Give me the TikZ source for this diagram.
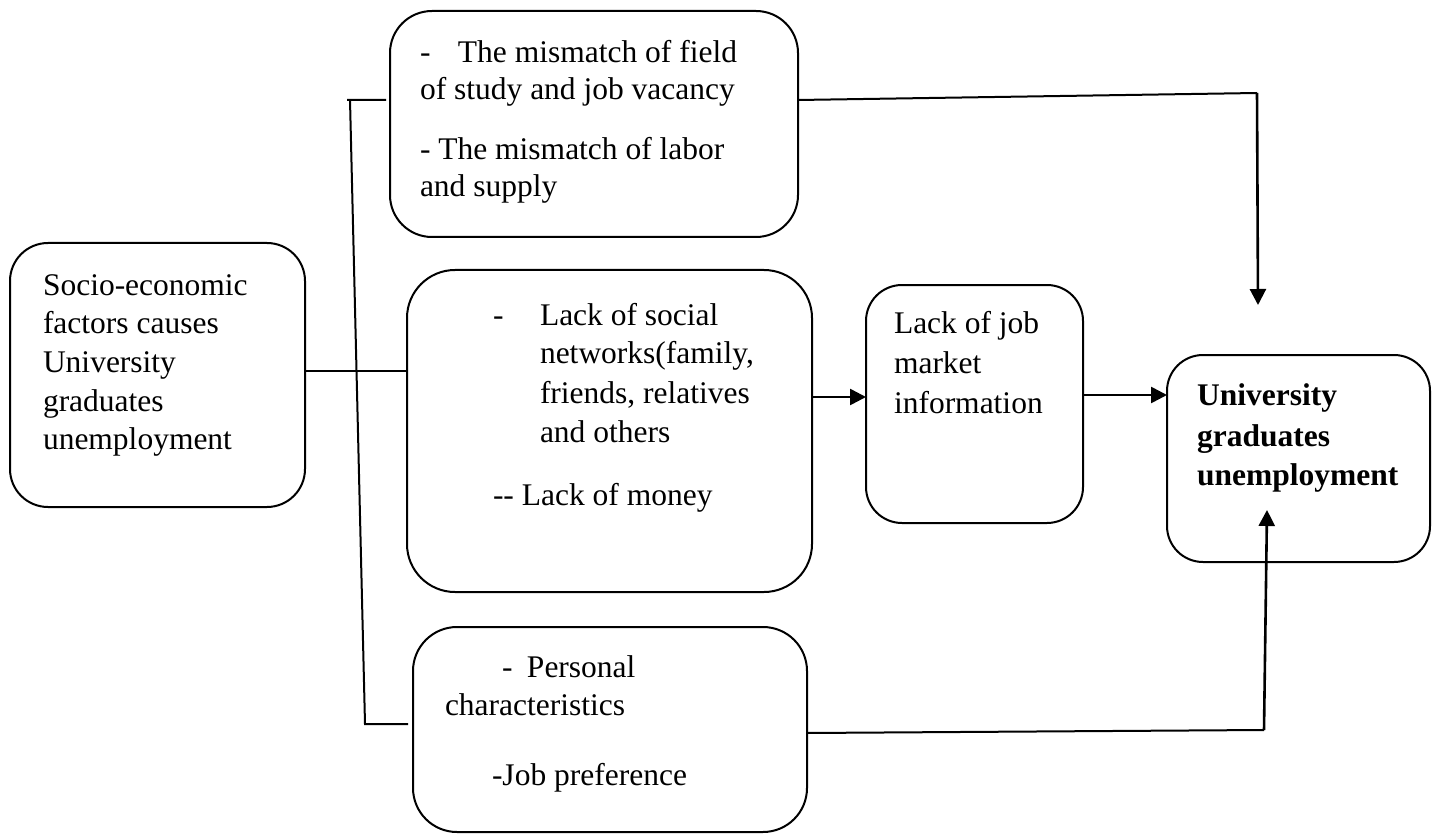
\documentclass[tikz,border=0pt]{standalone}
\usepackage{fontspec}
\setmainfont{Liberation Serif}
\usetikzlibrary{arrows.meta}
\begin{document}
\begin{tikzpicture}[x=1pt,y=-1pt,
  box/.style={draw, line width=2pt, rounded corners=#1, inner sep=0pt, outer sep=0pt},
  box/.default=38pt,
  txt/.style={inner sep=0pt, outer sep=0pt, anchor=base west, font=\fontsize{31.5}{38}\selectfont},
  conn/.style={line width=2pt},
  arr/.style={line width=2.6pt, -{Triangle[length=16pt,width=16pt]}}]
\useasboundingbox (0,0) rectangle (1434,834);

% boxes
\node[box=42pt, minimum width=408pt, minimum height=226pt] (A) at (594,124) {};
\node[box=38pt, minimum width=295pt, minimum height=264pt] (S) at (157.5,375) {};
\node[box=48pt, minimum width=405pt, minimum height=322pt] (B) at (609.5,431) {};
\node[box=36pt, minimum width=217pt, minimum height=238pt] (C) at (974.5,404) {};
\node[box=36pt, minimum width=263pt, minimum height=207pt] (D) at (1298.5,458.5) {};
\node[box=44pt, minimum width=394pt, minimum height=205pt] (E) at (610,729.5) {};

% texts
\node[txt] (a1) at (420,63) {-\hspace{27.5pt}The mismatch of field};
\node[txt] (a2) at (420,100) {of study and job vacancy};
\node[txt] (a3) at (420,160) {- The mismatch of labor};
\node[txt] (a4) at (420,197) {and supply};

\node[txt] (s1) at (43,295) {Socio-economic};
\node[txt] (s2) at (43,333.7) {factors causes};
\node[txt] (s3) at (43,372.4) {University};
\node[txt] (s4) at (43,411) {graduates};
\node[txt] (s5) at (43,449.7) {unemployment};

\node[txt] (b0) at (493,325) {-};
\node[txt] (b1) at (540,325) {Lack of social};
\node[txt] (b2) at (540,363) {networks(family,};
\node[txt] (b3) at (540,403) {friends, relatives};
\node[txt] (b4) at (540,442) {and others};
\node[txt] (b5) at (493,505) {-{}- Lack of money};

\node[txt] (c1) at (894,333) {Lack of job};
\node[txt] (c2) at (894,373) {market};
\node[txt] (c3) at (894,413) {information};

\node[txt, font=\fontsize{31.5}{38}\selectfont\bfseries] (d1) at (1197,405) {University};
\node[txt, font=\fontsize{31.5}{38}\selectfont\bfseries] (d2) at (1197,446) {graduates};
\node[txt, font=\fontsize{31.5}{38}\selectfont\bfseries] (d3) at (1197,485) {unemployment};

\node[txt] (e1) at (502,677) {-\hspace{14.5pt}Personal};
\node[txt] (e2) at (445,715) {characteristics};
\node[txt] (e3) at (492,785) {-Job preference};

% helper coordinates
\coordinate (bt) at (350,100);
\coordinate (bb) at (365,724);
\coordinate (ym) at (0,371);
\coordinate (ya) at (0,100);
\coordinate (tc) at (1257,93);
\coordinate (ttip) at (1258,305);
\coordinate (yb) at (0,397);
\coordinate (yc) at (0,395);
\coordinate (ye) at (0,733);
\coordinate (bc) at (1264,730);
\coordinate (btip) at (1267,510);

% connectors
\draw[conn] ([xshift=-4pt]A.west |- bt) -- ([xshift=-3pt]bt) -- (bt) -- (bb) -- ([xshift=-5pt]E.west |- bb);
\draw[conn] (S.east |- ym) -- (B.west |- ym);
\draw[conn] (A.east |- ya) -- (tc);
\draw[arr] (tc) -- (ttip);
\draw[arr] (B.east |- yb) -- (C.west |- yb);
\draw[arr] (C.east |- yc) -- (D.west |- yc);
\draw[conn] (E.east |- ye) -- (bc);
\draw[arr] (bc) -- (btip);
\end{tikzpicture}
\end{document}
